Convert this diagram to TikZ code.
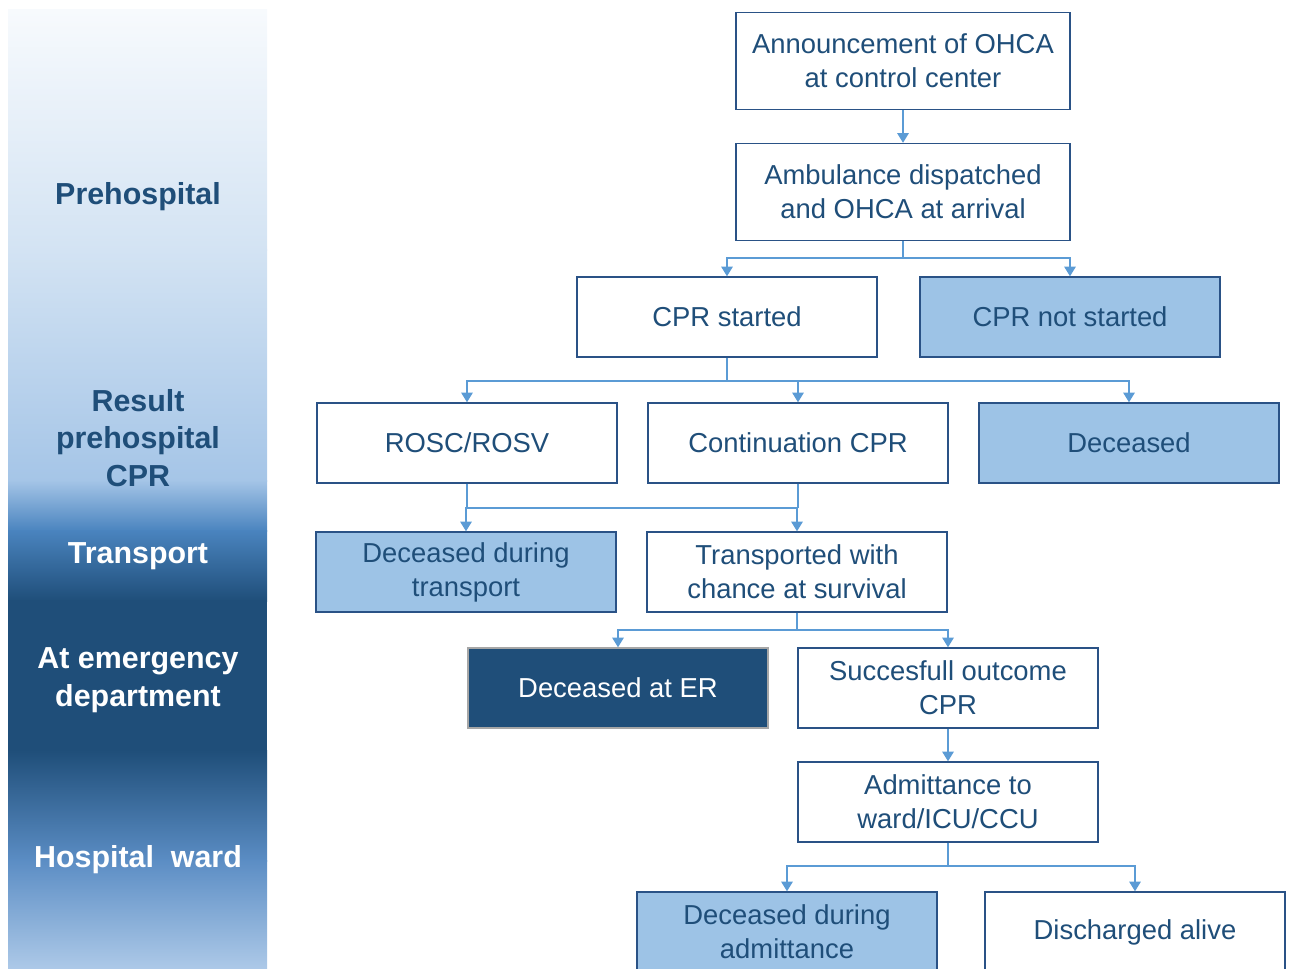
\documentclass[tikz,border=0pt]{standalone}
\usepackage{fontspec}
\setmainfont{Liberation Sans}
\usetikzlibrary{arrows.meta}

\definecolor{boxline}{HTML}{2A5286}
\definecolor{linkblue}{HTML}{5B9BD5}
\definecolor{lightfill}{HTML}{9DC3E6}
\definecolor{darkfill}{HTML}{1F4E79}
\definecolor{txtblue}{HTML}{1F4E79}
\definecolor{bandA}{HTML}{F7FAFD}
\definecolor{bandB}{HTML}{D3E3F3}
\definecolor{bandC}{HTML}{A5C5E7}
\definecolor{bandD}{HTML}{4A84BF}
\definecolor{bandE}{HTML}{5B8DC4}
\definecolor{bandF}{HTML}{ADC9E8}

\tikzset{
  stepbox/.style={draw=boxline, line width=0.8pt, fill=white, text=txtblue,
    minimum width=6cm, minimum height=1.6cm, inner sep=0pt, align=center},
  topbox/.style={stepbox, minimum width=6.68cm, minimum height=1.94cm},
  deadbox/.style={stepbox, fill=lightfill},
  erbox/.style={stepbox, draw=black!35, fill=darkfill, text=white},
  phase/.style={font=\fontsize{17.3}{21.5}\selectfont\bfseries, align=center, text=txtblue},
  phasew/.style={phase, text=white},
  line/.style={draw=linkblue, line width=0.9pt},
  link/.style={line, -{Triangle[width=6.5pt,length=5.5pt]}}
}

\begin{document}
\begin{tikzpicture}[x=0.02cm, y=0.02cm, font=\fontsize{15.6}{19.4}\selectfont]
    \useasboundingbox (0,0) rectangle (1290,-969);
    \shade[top color=bandA, bottom color=bandB] (8,-10) rectangle (267,-251);
    \shade[top color=bandB, bottom color=bandC] (8,-250) rectangle (267,-481);
    \shade[top color=bandC, bottom color=bandD] (8,-480) rectangle (267,-531);
    \shade[top color=bandD, bottom color=darkfill] (8,-530) rectangle (267,-601);
    \fill[darkfill] (8,-600) rectangle (267,-751);
    \shade[top color=darkfill, bottom color=bandE] (8,-750) rectangle (267,-861);
    \shade[top color=bandE, bottom color=bandF] (8,-860) rectangle (267,-969);

    \node[phase] (prehosp) at (138,-197) {Prehospital};
    \node[phase] (result) at (138,-438) {Result\\prehospital\\CPR};
    \node[phasew] (transport) at (138,-556) {Transport};
    \node[phasew] (emergency) at (138,-680) {At emergency\\department};
    \node[phasew] (ward) at (138,-860) {Hospital~~ward};

    \node[topbox] (announce) at (903,-61) {Announcement of OHCA\\at control center};
    \node[topbox] (ambulance) at (903,-192) {Ambulance dispatched\\and OHCA at arrival};
    \node[stepbox] (cprstart) at (727,-317) {CPR started};
    \node[deadbox] (cprnot) at (1070,-317) {CPR not started};
    \node[stepbox] (rosc) at (467,-443) {ROSC/ROSV};
    \node[stepbox] (contcpr) at (798,-443) {Continuation CPR};
    \node[deadbox] (deceased) at (1129,-443) {Deceased};
    \node[deadbox] (dtrans) at (466,-572) {Deceased during\\transport};
    \node[stepbox] (transp) at (797,-572) {Transported with\\chance at survival};
    \node[erbox] (deader) at (618,-688) {Deceased at ER};
    \node[stepbox] (success) at (948,-688) {Succesfull outcome\\CPR};
    \node[stepbox] (admit) at (948,-802) {Admittance to\\ward/ICU/CCU};
    \node[deadbox] (dadmit) at (787,-932) {Deceased during\\admittance};
    \node[stepbox] (discharged) at (1135,-932) {Discharged alive};

    \coordinate (j1) at (903,-258);
    \coordinate (j2) at (727,-381);
    \coordinate (j3) at (467,-508);
    \coordinate (j4) at (798,-508);
    \coordinate (j5) at (797,-630);
    \coordinate (j6) at (948,-866);

    \draw[link] (announce) -- (ambulance);
    \draw[line] (ambulance) -- (j1);
    \draw[link] (j1) -| (cprstart);
    \draw[link] (j1) -| (cprnot);
    \draw[line] (cprstart) -- (j2);
    \draw[link] (j2) -| (rosc);
    \draw[link] (j2) -| (contcpr);
    \draw[link] (j2) -| (deceased);
    \draw[line] (rosc) -- (j3) -- (j4);
    \draw[line] (contcpr) -- (j4);
    \draw[link] (j3) -| (dtrans);
    \draw[link] (j4) -| (transp);
    \draw[line] (transp) -- (j5);
    \draw[link] (j5) -| (deader);
    \draw[link] (j5) -| (success);
    \draw[link] (success) -- (admit);
    \draw[line] (admit) -- (j6);
    \draw[link] (j6) -| (dadmit);
    \draw[link] (j6) -| (discharged);
\end{tikzpicture}
\end{document}
